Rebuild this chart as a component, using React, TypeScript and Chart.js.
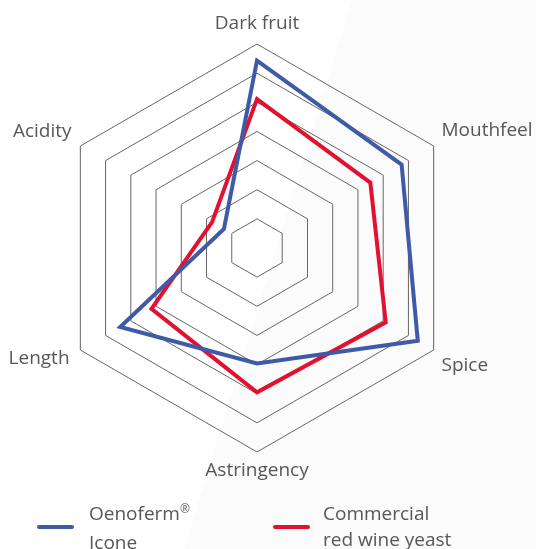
import React, { useEffect, useRef } from "react";
import { Chart, registerables } from "chart.js";

Chart.register(...registerables);

// ---- data ----
const categories = ["Dark fruit", "Mouthfeel", "Spice", "Astringency", "Length", "Acidity"];
const oenofermIcone = [6.43, 5.73, 6.37, 3.96, 5.42, 1.31];
const commercialYeast = [5.11, 4.49, 5.1, 4.95, 4.18, 1.78];
const seriesNames = ["Oenoferm® Icone", "Commercial red wine yeast"];
const scaleMin = 0;
const scaleMax = 7;
const scaleStep = 1;

// ---- styles ----
const BLUE = "#3f5aa6";
const RED = "#e3102f";
const TEXT = "#575757";
const GRID = "#666666";
const FONT = "'Open Sans', 'Noto Sans', sans-serif";
const LABEL_PAD = 9;
const LABEL_NUDGE: Array<[number, number]> = [
  [0, 0],
  [0, 0],
  [0, 0],
  [0, -2],
  [-3, -7],
  [-1, 1],
];

const pointLabelPlugin = {
  id: "customPointLabels",
  afterDraw(chart: any) {
    const scale = chart.scales.r;
    const ctx = chart.ctx;
    const labels: string[] = chart.data.labels;
    const size = 19;
    const half = (size * 1.2) / 2;
    ctx.save();
    ctx.font = `${size}px ${FONT}`;
    ctx.fillStyle = TEXT;
    ctx.textBaseline = "middle";
    labels.forEach((label, i) => {
      const p = scale.getPointPosition(i, scale.drawingArea + LABEL_PAD);
      const deg = Math.round((scale.getIndexAngle(i) * 180) / Math.PI) % 360;
      let align: CanvasTextAlign = "center";
      if (deg === 0 || deg === 180) align = "center";
      else if (deg < 180) align = "left";
      else align = "right";
      let y = p.y;
      if (deg === 90 || deg === 270) y = p.y;
      else if (deg > 270 || deg < 90) y = p.y - half;
      else y = p.y + half;
      const [nx, ny] = LABEL_NUDGE[i] || [0, 0];
      ctx.textAlign = align;
      ctx.fillText(label, p.x + nx, y + ny);
    });
    ctx.restore();
  },
};

function LegendItem({ color, left, lineLeft, lines }: { color: string; left: number; lineLeft: number; lines: React.ReactNode[] }) {
  return (
    <>
      <div
        style={{
          position: "absolute",
          left: lineLeft,
          top: 525,
          width: 37,
          height: 4,
          borderRadius: 2,
          background: color,
        }}
      />
      <div
        style={{
          position: "absolute",
          left,
          top: 500,
          fontFamily: FONT,
          fontSize: 19,
          lineHeight: "26px",
          color: TEXT,
          whiteSpace: "nowrap",
        }}
      >
        {lines.map((l, i) => (
          <div key={i}>{l}</div>
        ))}
      </div>
    </>
  );
}

export default function App() {
  const canvasRef = useRef<HTMLCanvasElement | null>(null);

  useEffect(() => {
    if (!canvasRef.current) return;
    const chart = new Chart(canvasRef.current, {
      type: "radar",
      data: {
        labels: categories,
        datasets: [
          {
            label: seriesNames[0],
            data: oenofermIcone,
            borderColor: BLUE,
            backgroundColor: "transparent",
            borderWidth: 4,
            fill: false,
            pointRadius: 0,
            pointHoverRadius: 0,
            tension: 0,
          },
          {
            label: seriesNames[1],
            data: commercialYeast,
            borderColor: RED,
            backgroundColor: "transparent",
            borderWidth: 4,
            fill: false,
            pointRadius: 0,
            pointHoverRadius: 0,
            tension: 0,
          },
        ],
      },
      options: {
        animation: false,
        responsive: true,
        maintainAspectRatio: false,
        layout: { padding: { left: 53, right: 75, top: 44, bottom: 97 } },
        plugins: {
          legend: { display: false },
          tooltip: { enabled: false },
        },
        scales: {
          r: {
            min: scaleMin,
            max: scaleMax,
            ticks: { display: false, stepSize: scaleStep },
            grid: { color: GRID, lineWidth: 1 },
            angleLines: { display: false },
            pointLabels: { display: false },
          },
        },
      },
      plugins: [pointLabelPlugin],
    });
    return () => chart.destroy();
  }, []);

  return (
    <div
      style={{
        position: "fixed",
        left: 0,
        top: 0,
        width: 536,
        height: 549,
        overflow: "hidden",
        background: "linear-gradient(107deg, #ffffff 50%, #fbfbfb 50%)",
      }}
    >
      <div style={{ position: "absolute", left: 0, top: 0, width: 536, height: 549 }}>
        <canvas ref={canvasRef} />
      </div>
      <LegendItem
        color={BLUE}
        lineLeft={37}
        left={89}
        lines={[
          <span>
            Oenoferm
            <span style={{ fontSize: 12, position: "relative", top: -7 }}>®</span>
          </span>,
          "Icone",
        ]}
      />
      <LegendItem color={RED} lineLeft={273} left={323} lines={["Commercial", "red wine yeast"]} />
    </div>
  );
}
